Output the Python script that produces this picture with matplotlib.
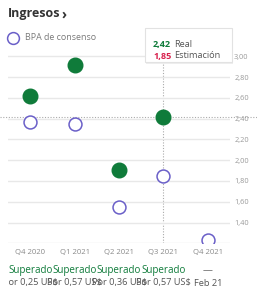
import matplotlib.pyplot as plt
import matplotlib.transforms as mtransforms
from matplotlib.patches import FancyBboxPatch
from matplotlib.lines import Line2D

plt.rcParams['font.family'] = ['Open Sans', 'DejaVu Sans']

quarters = ["Q4 2020", "Q1 2021", "Q2 2021", "Q3 2021", "Q4 2021"]
real = [2.62, 2.92, 1.91, 2.42, None]
consensus = [2.37, 2.35, 1.55, 1.85, 1.23]
status = ["Superado", "Superado", "Superado", "Superado", "—"]
detail = ["Por 0,25 US$", "Por 0,57 US$", "Por 0,36 US$", "Por 0,57 US$", "Feb 21"]
yticks = [1.2, 1.4, 1.6, 1.8, 2.0, 2.2, 2.4, 2.6, 2.8, 3.0]

green = "#0f7b3a"
purple = "#6a5fc8"
red = "#d81f4c"
gray = "#7a7a7a"

W, H = 257, 300
fig = plt.figure(figsize=(W / 100, H / 100), dpi=100)
ax = fig.add_axes([8 / W, 56.7 / H, 222 / W, 193.3 / H])
ax.set_xlim(-0.5, 4.5)
ax.set_ylim(1.2, 3.06)

xs = list(range(len(quarters)))
ax.set_yticks(yticks)
ax.set_yticklabels(["" if v == 1.2 else f"{v:.2f}".replace(".", ",") for v in yticks])
ax.yaxis.tick_right()
ax.tick_params(axis="y", length=0, pad=3, labelsize=5.3, labelcolor="#9a9a9a")
ax.set_xticks(xs)
ax.set_xticklabels(quarters)
ax.tick_params(axis="x", length=0, pad=4, labelsize=5.6, labelcolor="#8a8a8a")
ax.grid(axis="y", color="#e8e8e8", linewidth=1)
for s in ax.spines.values():
    s.set_visible(False)

# hover crosshair
ax.axvline(3, ymin=0, ymax=(2.94 - 1.2) / 1.86, color="#aaaaaa", lw=0.8, ls=(0, (1, 1.5)), zorder=1)
tr = mtransforms.blended_transform_factory(fig.transFigure, ax.transData)
ax.add_line(Line2D([0, 1], [2.42, 2.42], transform=tr, color="#aaaaaa", lw=0.8,
                   ls=(0, (1, 1.5)), clip_on=False, zorder=1))

rx = [x for x, v in zip(xs, real) if v is not None]
rv = [v for v in real if v is not None]
ax.plot(rx, rv, "o", ms=10.5, color=green, mec=green, ls="none", zorder=3)
ax.plot(xs, consensus, "o", ms=9.3, mfc="white", mec=purple, mew=1.1, ls="none", zorder=3)

# status rows under axis
for x, st, d in zip(xs, status, detail):
    xf = (8 + 44.4 * (x + 0.5)) / W
    fig.text(xf, 1 - 271 / H, st, ha="center", va="center", fontsize=7.1,
             color=green if st != "—" else "#666666", weight="medium")
    t = fig.text(xf, 1 - 283 / H, d, ha="center", va="center", fontsize=6.7, color="#555555")
    t.set_clip_box(mtransforms.TransformedBbox(
        mtransforms.Bbox([[8 / W, 0], [1, 1]]), fig.transFigure))
    t.set_clip_on(True)

# title and legend
fig.text(8 / W, 1 - 14 / H, "Ingresos", fontsize=9, weight="bold", color="#333333", va="center")
fig.text(61 / W, 1 - 15 / H, "›", fontsize=10, weight="bold", color="#333333", va="center")
fig.add_artist(Line2D([13 / W], [1 - 38 / H], marker="o", ms=8.5, mfc="white", mec=purple,
                      mew=1.1, transform=fig.transFigure))
fig.text(25 / W, 1 - 38 / H, "BPA de consenso", fontsize=6.4, color=gray, va="center")

# tooltip
shadow = FancyBboxPatch((146 / W, 1 - 63.5 / H), 87 / W, 34 / H, boxstyle="square,pad=0",
                        transform=fig.transFigure, fc="#eeeeee", ec="none", zorder=4)
fig.add_artist(shadow)
box = FancyBboxPatch((145 / W, 1 - 62 / H), 87 / W, 34 / H, boxstyle="square,pad=0",
                     transform=fig.transFigure, fc="white", ec="#e2e2e2", lw=0.8, zorder=5)
fig.add_artist(box)
fig.text(153 / W, 1 - 44 / H, "2,42", fontsize=6.6, weight="bold", color=green, va="center", zorder=6)
fig.text(174 / W, 1 - 44 / H, "Real", fontsize=6.6, color="#555555", va="center", zorder=6)
fig.text(153 / W, 1 - 56 / H, "1,85", fontsize=6.6, weight="bold", color=red, va="center", zorder=6)
fig.text(174 / W, 1 - 56 / H, "Estimación", fontsize=6.6, color="#555555", va="center", zorder=6)

fig.savefig("out.png", dpi=100)
